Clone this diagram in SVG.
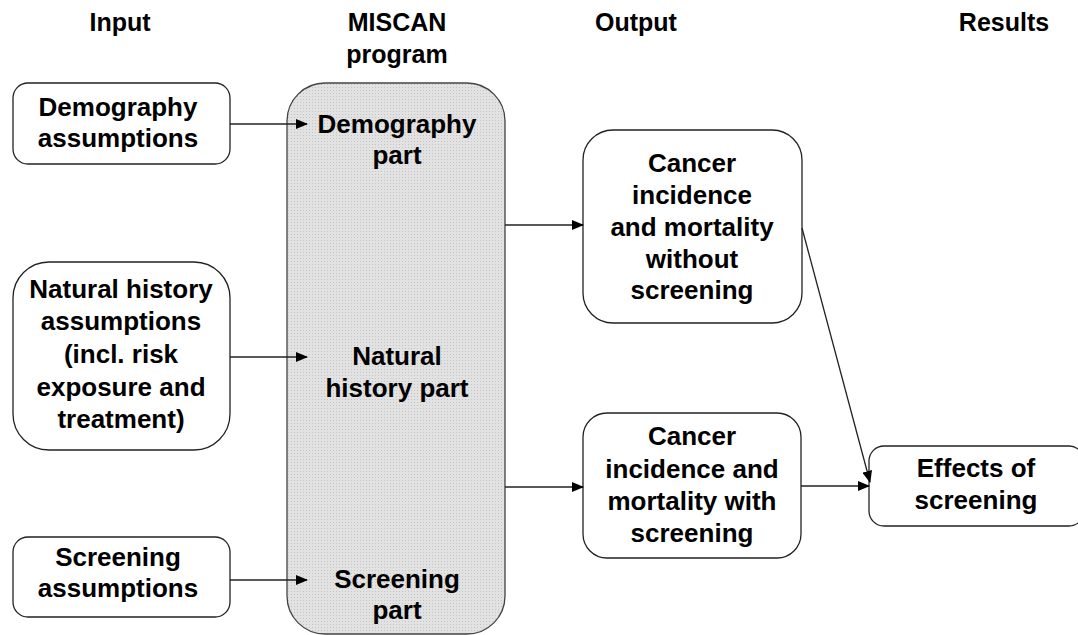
<svg xmlns="http://www.w3.org/2000/svg" width="1078" height="635" viewBox="0 0 1078 635">
<style>
text{font-family:"Liberation Sans",Arial,sans-serif;font-weight:bold;fill:#000;text-anchor:middle}
.h{font-size:25px}
.t{font-size:26px}
.box{fill:#fff;stroke:#222;stroke-width:1.3}
.prog{fill:url(#dots);stroke:#444;stroke-width:1.3}
.c{stroke:#222;stroke-width:1.3;fill:none}
</style>
<defs>
<pattern id="dots" width="3" height="3" patternUnits="userSpaceOnUse">
<rect width="3" height="3" fill="#e2e2e2"/>
<rect width="1" height="1" fill="#c4c4c4"/>
</pattern>
<marker id="ah" markerWidth="12" markerHeight="10" refX="11" refY="5" orient="auto" markerUnits="userSpaceOnUse">
<path d="M0,0 L12,5 L0,10 Z" fill="#000"/>
</marker>
</defs>
<g id="headers">
<text class="h" x="120" y="31">Input</text>
<text class="h" x="397" y="31">MISCAN</text>
<text class="h" x="397" y="63">program</text>
<text class="h" x="636" y="31">Output</text>
<text class="h" x="1004" y="31">Results</text>
</g>
<g id="miscan">
<rect class="prog" x="287" y="83" width="218" height="551" rx="38"/>
<text class="t" x="397" y="133">Demography</text>
<text class="t" x="397" y="164">part</text>
<text class="t" x="397" y="365">Natural</text>
<text class="t" x="397" y="397">history part</text>
<text class="t" x="397" y="588">Screening</text>
<text class="t" x="397" y="619">part</text>
</g>
<g id="demography-assumptions">
<rect class="box" x="13" y="83" width="217" height="81" rx="15"/>
<text class="t" x="118" y="116">Demography</text>
<text class="t" x="118" y="147">assumptions</text>
</g>
<g id="natural-history-assumptions">
<rect class="box" x="13" y="262" width="217" height="188" rx="36"/>
<text class="t" x="121" y="298">Natural history</text>
<text class="t" x="121" y="330">assumptions</text>
<text class="t" x="121" y="363">(incl. risk</text>
<text class="t" x="121" y="396">exposure and</text>
<text class="t" x="121" y="428">treatment)</text>
</g>
<g id="screening-assumptions">
<rect class="box" x="13" y="537" width="217" height="80" rx="15"/>
<text class="t" x="118" y="566">Screening</text>
<text class="t" x="118" y="597">assumptions</text>
</g>
<g id="output-without">
<rect class="box" x="583" y="130" width="219" height="193" rx="30"/>
<text class="t" x="692" y="172">Cancer</text>
<text class="t" x="692" y="204">incidence</text>
<text class="t" x="692" y="236">and mortality</text>
<text class="t" x="692" y="268">without</text>
<text class="t" x="692" y="299">screening</text>
</g>
<g id="output-with">
<rect class="box" x="583" y="413" width="218" height="145" rx="24"/>
<text class="t" x="692" y="445">Cancer</text>
<text class="t" x="692" y="478">incidence and</text>
<text class="t" x="692" y="510">mortality with</text>
<text class="t" x="692" y="542">screening</text>
</g>
<g id="effects">
<rect class="box" x="869" y="446" width="215" height="80" rx="15"/>
<text class="t" x="976" y="477">Effects of</text>
<text class="t" x="976" y="509">screening</text>
</g>
<g id="connectors">
<line class="c" x1="230" y1="124" x2="307" y2="124" marker-end="url(#ah)"/>
<line class="c" x1="230" y1="357" x2="307" y2="357" marker-end="url(#ah)"/>
<line class="c" x1="230" y1="580" x2="307" y2="580" marker-end="url(#ah)"/>
<line class="c" x1="505" y1="225" x2="583" y2="225" marker-end="url(#ah)"/>
<line class="c" x1="505" y1="487" x2="583" y2="487" marker-end="url(#ah)"/>
<line class="c" x1="801" y1="486" x2="869" y2="486" marker-end="url(#ah)"/>
<line class="c" x1="802" y1="228" x2="870" y2="482" marker-end="url(#ah)"/>
</g>
</svg>
